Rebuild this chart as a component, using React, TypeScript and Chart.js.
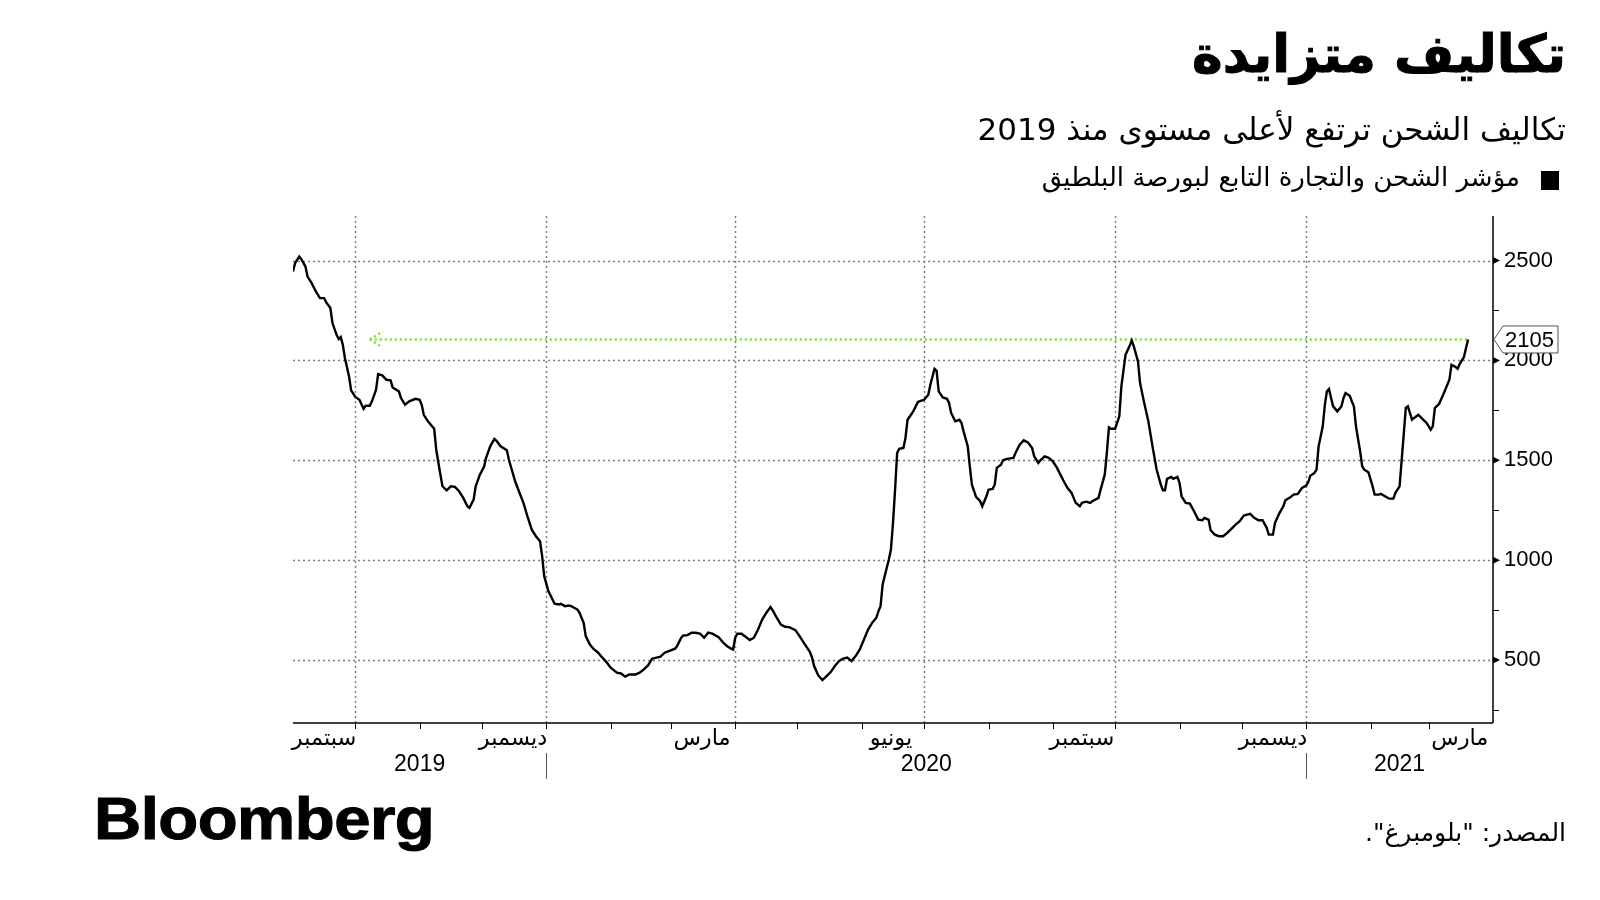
import React, { useEffect, useRef } from 'react';
import { Chart, registerables } from 'chart.js';

Chart.register(...registerables);

// Baltic Dry Index, x = days since 1 Sep 2019
const dayOffsets = [
  0, 1, 3, 4, 6, 7, 9, 11, 13, 15, 16, 18, 19, 21, 22, 23, 24, 25, 27, 28, 30, 32, 34, 35, 37, 38, 40, 41, 43, 45, 47, 48,
  51, 52, 54, 56, 59, 61, 62, 63, 65, 68, 69, 71, 72, 74, 76, 78, 80, 82, 84, 85, 87, 88, 90, 92, 93, 95, 97, 98, 100,
  103, 104, 107, 109, 111, 113, 115, 117, 119, 120, 121, 123, 125, 126, 128, 129, 131, 133, 134, 137,
  138, 140, 141, 143, 145, 147, 149, 151, 153, 156, 158, 160, 162, 165, 167, 169, 171, 173, 177, 179, 181, 184, 185,
  187, 188, 190, 192, 194, 196, 198, 200, 202, 205, 207, 209, 211, 212, 213, 214, 216, 218, 220, 222, 224, 226, 228,
  230, 231, 233, 235, 237, 239, 242, 244, 246, 249, 250, 251, 253, 255, 257, 259, 261, 263, 265, 267, 269, 271, 273,
  275, 277, 279, 281, 282,
  283, 284, 286, 287, 288, 289, 290, 291, 292, 294, 295, 296, 298, 299, 301, 303, 304, 306, 307, 309, 310, 311, 313,
  315, 316, 317, 319, 321, 322, 323, 325, 326, 327, 329, 331, 332, 334, 335, 337, 338, 339, 341, 342, 344, 347, 348,
  350, 352, 354, 356, 357, 359, 360, 362, 364, 366, 368, 371, 373, 375, 377, 379, 380, 382, 384, 385, 388, 389, 391,
  392, 393, 394, 396, 398, 399, 401, 403, 404, 405, 407, 408, 410, 412, 414, 416, 418, 419, 420, 421, 423, 424, 426, 427,
  428, 430, 432, 434, 436, 438, 439, 441, 442, 444, 446, 448, 450, 452, 454, 456, 458, 461, 463, 465, 467, 469, 470,
  472, 473, 475, 477, 478, 480, 482, 484, 486, 488, 489, 490, 492, 493, 494, 496, 497, 498, 499, 500, 501, 503, 505,
  506, 507, 509, 510, 511, 512, 514, 515, 516, 518, 520, 521, 523, 524, 526, 528, 530, 531, 533, 534, 535, 536, 537,
  539, 540, 542, 544, 546, 548, 549, 550, 552, 554, 555, 557, 558, 560, 561, 562, 564, 565, 566,
];

const bdiValues = [
  2445, 2487, 2520, 2507, 2470, 2420, 2387, 2345, 2312, 2312, 2290, 2262, 2187, 2128, 2107, 2117, 2078, 2012, 1920,
  1850, 1817, 1803, 1758, 1773, 1773, 1795, 1853, 1932, 1925, 1903, 1900, 1865,
  1845, 1812, 1778, 1795, 1808, 1803, 1778, 1728, 1695, 1658, 1553, 1428, 1370, 1350, 1370, 1367, 1345, 1312, 1270,
  1262, 1303, 1370, 1428, 1467, 1512, 1570, 1607, 1598, 1570,
  1550, 1503, 1395, 1340, 1287, 1217, 1153, 1120, 1095, 1020, 920, 845, 803, 782, 778, 782, 770, 773, 770, 753,
  737, 687, 620, 578, 553, 537, 512, 490, 462, 437, 433, 417, 428, 428, 437, 453, 473, 507, 517, 537, 545, 557, 570,
  612, 623, 625, 637, 637, 633, 612, 637, 632, 615, 590, 570, 557, 553, 612, 632, 632, 617, 600, 612, 653, 703, 737,
  765, 750, 712, 678, 667, 665, 650, 620, 587, 540, 512, 470, 423, 400, 420, 440, 470, 495, 507, 512, 495, 520, 553,
  603, 653, 687, 712, 745,
  770, 878, 962, 1003, 1053, 1187, 1353, 1537, 1558, 1562, 1612, 1703, 1733, 1750, 1792, 1800, 1803, 1828, 1878, 1958,
  1948, 1845, 1815,
  1808, 1787, 1737, 1695, 1703, 1687, 1645, 1570, 1470, 1378, 1317, 1295, 1270, 1320, 1353, 1357, 1378, 1462, 1478,
  1500, 1507, 1512, 1537,
  1578, 1600, 1590, 1562, 1520, 1487, 1500, 1520, 1512, 1495, 1462, 1400, 1362, 1337, 1287, 1270, 1287, 1293, 1287,
  1295, 1312, 1353, 1428,
  1537, 1665, 1658, 1658, 1720, 1870, 2028, 2073, 2100, 2070, 1995, 1887, 1787, 1695, 1570, 1453, 1378, 1350, 1350,
  1407, 1417, 1407, 1417, 1387,
  1320, 1287, 1283, 1245, 1203, 1200, 1212, 1203, 1150, 1128, 1120, 1120, 1137, 1157, 1178, 1195, 1223, 1232, 1212,
  1200, 1200, 1162, 1128,
  1128, 1187, 1233, 1270, 1300, 1312, 1328, 1332, 1362, 1373, 1390, 1423, 1437, 1453, 1570, 1670, 1778, 1845, 1857,
  1812, 1770, 1745, 1770,
  1812, 1837, 1823, 1795, 1770, 1670, 1545, 1470, 1453, 1440, 1370, 1328, 1328, 1332, 1320, 1308, 1308, 1337, 1370,
  1500, 1630, 1762, 1770,
  1703, 1712, 1728, 1707, 1687, 1653, 1670, 1762, 1782, 1828, 1853, 1903, 1978, 1967, 1958, 1983, 2017, 2062, 2105,
];

const xMinDay = 0;
const xMaxDay = 578;
const yMin = 185;
const yMax = 2723;

const yMinorTicks = [250, 750, 1250, 1750, 2250];
const yMajorTicks = [500, 1000, 1500, 2000, 2500];

const monthStartDays = [30, 61, 91, 122, 153, 182, 213, 243, 274, 304, 335, 366, 396, 427, 457, 488, 519, 547];
const quarterGridDays = [30, 122, 213, 304, 396, 488];
const quarterLabels = ['سبتمبر', 'ديسمبر', 'مارس', 'يونيو', 'سبتمبر', 'ديسمبر', 'مارس'];
const quarterLabelMidDays = [15, 106, 197, 288, 380, 472, 562];
const yearLabels = ['2019', '2020', '2021'];
const yearStartDays = [0, 122, 488];
const yearEndDays = [122, 488, 578];
const yearSeparatorDays = [122, 488];

const highlightValue = 2105;
const highlightFromDay = 37;
const highlightToDay = 566;

const titleText = 'تكاليف متزايدة';
const subtitleText = 'تكاليف الشحن ترتفع لأعلى مستوى منذ 2019';
const legendText = 'مؤشر الشحن والتجارة التابع لبورصة البلطيق';
const sourceText = 'المصدر: "بلومبرغ".';

const ARABIC = '"DejaVu Sans", sans-serif';
const DIGITS = '"Liberation Sans", Arial, sans-serif';
const GREEN = '#72e23a';

const decorPlugin = {
  id: 'decor',
  beforeDatasetsDraw(chart: any) {
    const { ctx, chartArea: a, scales } = chart;
    const x = scales.x;
    const y = scales.y;
    ctx.save();
    // dotted grid
    ctx.strokeStyle = '#7d7d7d';
    ctx.lineWidth = 1.5;
    ctx.setLineDash([2, 3]);
    yMajorTicks.forEach((v) => {
      const py = Math.round(y.getPixelForValue(v)) + 0.5;
      ctx.beginPath();
      ctx.moveTo(a.left, py);
      ctx.lineTo(a.right, py);
      ctx.stroke();
    });
    quarterGridDays.forEach((d) => {
      const px = Math.round(x.getPixelForValue(d)) + 0.5;
      ctx.beginPath();
      ctx.moveTo(px, a.top);
      ctx.lineTo(px, a.bottom);
      ctx.stroke();
    });
    ctx.setLineDash([]);

    // axes
    ctx.strokeStyle = '#000';
    ctx.lineWidth = 1.5;
    ctx.beginPath();
    ctx.moveTo(a.right, a.top);
    ctx.lineTo(a.right, a.bottom);
    ctx.stroke();
    ctx.beginPath();
    ctx.moveTo(a.left, a.bottom);
    ctx.lineTo(a.right, a.bottom);
    ctx.stroke();

    // y ticks
    ctx.fillStyle = '#000';
    yMajorTicks.forEach((v) => {
      const py = y.getPixelForValue(v);
      ctx.beginPath();
      ctx.moveTo(a.right, py - 3.5);
      ctx.lineTo(a.right + 7, py);
      ctx.lineTo(a.right, py + 3.5);
      ctx.closePath();
      ctx.fill();
    });
    ctx.lineWidth = 1;
    yMinorTicks.forEach((v) => {
      const py = Math.round(y.getPixelForValue(v)) + 0.5;
      ctx.beginPath();
      ctx.moveTo(a.right, py);
      ctx.lineTo(a.right + 6, py);
      ctx.stroke();
    });

    // x ticks
    monthStartDays.forEach((d) => {
      const px = Math.round(x.getPixelForValue(d)) + 0.5;
      ctx.beginPath();
      ctx.moveTo(px, a.bottom);
      ctx.lineTo(px, a.bottom + 6);
      ctx.stroke();
    });

    // month labels (centred on the month)
    ctx.font = `22.5px ${ARABIC}`;
    ctx.textAlign = 'center';
    ctx.textBaseline = 'middle';
    quarterLabels.forEach((lab, i) => {
      const px = x.getPixelForValue(quarterLabelMidDays[i]);
      ctx.fillText(lab, px, a.bottom + 16);
    });

    // year labels
    ctx.font = `23px ${DIGITS}`;
    ctx.textAlign = 'center';
    yearLabels.forEach((lab, i) => {
      const px = (x.getPixelForValue(yearStartDays[i]) + x.getPixelForValue(yearEndDays[i])) / 2;
      ctx.fillText(lab, px, a.bottom + 42);
    });

    // year separators
    ctx.strokeStyle = '#555';
    ctx.lineWidth = 1;
    yearSeparatorDays.forEach((d) => {
      const px = Math.round(x.getPixelForValue(d)) + 0.5;
      ctx.beginPath();
      ctx.moveTo(px, a.bottom + 30);
      ctx.lineTo(px, a.bottom + 56);
      ctx.stroke();
    });
    ctx.restore();
  },
  afterDraw(chart: any) {
    const { ctx, chartArea: a, scales } = chart;
    const x = scales.x;
    const y = scales.y;
    ctx.save();
    // arrow head of highlight line
    const tipX = x.getPixelForValue(highlightFromDay);
    const py = y.getPixelForValue(highlightValue);
    ctx.strokeStyle = GREEN;
    ctx.lineWidth = 2.5;
    ctx.setLineDash([2, 3]);
    ctx.beginPath();
    ctx.moveTo(tipX, py);
    ctx.lineTo(tipX + 13, py - 8);
    ctx.moveTo(tipX, py);
    ctx.lineTo(tipX + 13, py + 8);
    ctx.stroke();
    ctx.setLineDash([]);

    // value callout
    const left = a.right + 1;
    const top = py - 13.5;
    const bottom = py + 13.5;
    const right = a.right + 65;
    ctx.beginPath();
    ctx.moveTo(left, py);
    ctx.lineTo(left + 9, top);
    ctx.lineTo(right, top);
    ctx.lineTo(right, bottom);
    ctx.lineTo(left + 9, bottom);
    ctx.closePath();
    ctx.fillStyle = '#fff';
    ctx.fill();
    ctx.strokeStyle = '#555';
    ctx.lineWidth = 1;
    ctx.stroke();
    ctx.fillStyle = '#000';
    ctx.font = `22px ${DIGITS}`;
    ctx.textAlign = 'left';
    ctx.textBaseline = 'middle';
    ctx.fillText(String(highlightValue), left + 11, py + 1);
    ctx.restore();
  },
};

export default function App() {
  const canvasRef = useRef<HTMLCanvasElement | null>(null);

  useEffect(() => {
    const canvas = canvasRef.current;
    if (!canvas) return;
    const chart = new Chart(canvas, {
      type: 'line',
      data: {
        datasets: [
          {
            label: legendText,
            data: dayOffsets.map((d, i) => ({ x: d, y: bdiValues[i] })),
            borderColor: '#000',
            borderWidth: 2.4,
            pointRadius: 0,
            tension: 0,
            fill: false,
          },
          {
            label: 'highlight',
            data: [
              { x: highlightFromDay, y: highlightValue },
              { x: highlightToDay, y: highlightValue },
            ],
            borderColor: GREEN,
            borderWidth: 2.5,
            borderDash: [2, 3],
            pointRadius: 0,
            fill: false,
          },
        ],
      },
      options: {
        animation: false,
        responsive: false,
        devicePixelRatio: 1,
        layout: { padding: { left: 293, top: 216, bottom: 177, right: 0 } },
        plugins: { legend: { display: false }, tooltip: { enabled: false }, title: { display: false } },
        scales: {
          x: { type: 'linear', min: xMinDay, max: xMaxDay, display: false },
          y: {
            position: 'right',
            min: yMin,
            max: yMax,
            grid: { display: false, drawTicks: false },
            border: { display: false },
            afterBuildTicks: (scale: any) => {
              scale.ticks = [...yMinorTicks, ...yMajorTicks].sort((p, q) => p - q).map((v) => ({ value: v }));
            },
            afterFit: (scale: any) => {
              scale.width = 107;
            },
            ticks: {
              padding: 11,
              color: '#000',
              font: { family: 'Liberation Sans', size: 22 },
              callback: (v: any) => (yMajorTicks.includes(Number(v)) ? String(v) : ''),
            },
          },
        },
      },
      plugins: [decorPlugin],
    });
    return () => chart.destroy();
  }, []);

  const base: React.CSSProperties = { position: 'absolute', whiteSpace: 'nowrap', lineHeight: 1, color: '#000' };

  return (
    <div style={{ position: 'absolute', left: 0, top: 0, width: 1600, height: 900, background: '#fff', overflow: 'hidden' }}>
      <canvas ref={canvasRef} width={1600} height={900} style={{ position: 'absolute', left: 0, top: 0, width: 1600, height: 900 }} />
      <div dir="rtl" style={{ ...base, right: 34, top: 28, fontFamily: ARABIC, fontWeight: 700, fontSize: 52, WebkitTextStroke: '1px #000' }}>{titleText}</div>
      <div dir="rtl" style={{ ...base, right: 34, top: 114, fontFamily: ARABIC, fontSize: 31 }}>{subtitleText}</div>
      <div style={{ position: 'absolute', left: 1541, top: 171, width: 18, height: 19, background: '#000' }} />
      <div dir="rtl" style={{ ...base, right: 80, top: 164, fontFamily: ARABIC, fontSize: 26 }}>{legendText}</div>
      <div style={{ ...base, left: 94, top: 789, fontFamily: DIGITS, fontWeight: 700, fontSize: 60, letterSpacing: -0.5, transform: 'scaleX(1.09)', transformOrigin: 'left top', WebkitTextStroke: '1px #000' }}>Bloomberg</div>
      <div dir="rtl" style={{ ...base, right: 34, top: 820, fontFamily: ARABIC, fontSize: 25 }}>{sourceText}</div>
    </div>
  );
}
